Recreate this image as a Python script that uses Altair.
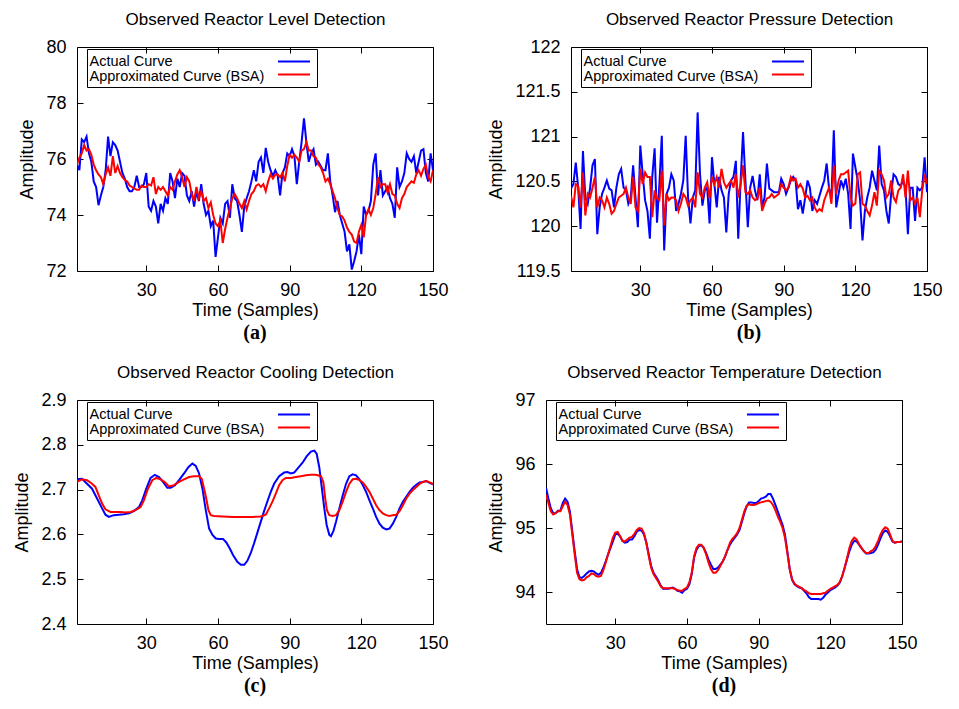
import altair as alt
import pandas as pd

FONT = "Liberation Sans"
SERIF = "Liberation Serif"
SERIES = ["Actual Curve", "Approximated Curve (BSA)"]
COLORS = ["#0000ff", "#ff0000"]
X_TICKS = [30, 60, 90, 120, 150]
SAMPLES = list(range(1, 151))
W, H = 356, 224
TICK = 6

# ---------- (a) Reactor Level ----------
a_actual = [
    75.8, 75.6, 76.7, 76.6, 76.8, 76.2, 75.9, 75.2, 75.0, 74.35,
    74.7, 75.0, 75.6, 76.8, 76.1, 76.6, 76.5, 76.3, 75.9, 75.5,
    75.3, 75.0, 74.85, 74.85, 75.0, 75.4, 75.0, 75.0, 75.1, 75.5,
    74.3, 74.15, 74.5, 74.3, 73.7, 74.4, 74.15, 74.6, 74.4, 75.5,
    75.2, 74.6, 75.3, 75.0, 75.5, 75.4, 74.7, 74.5, 74.85, 74.3,
    74.85, 74.5, 75.1, 74.4, 74.0, 74.15, 73.6, 73.8, 72.5, 73.2,
    73.9, 73.7, 74.4, 74.5, 73.9, 75.1, 74.6, 74.5, 74.0, 73.4,
    74.3, 74.6, 74.85, 75.2, 75.6, 75.2, 75.9, 76.05, 75.5, 76.4,
    75.9, 75.6, 75.4, 75.6, 75.4, 74.7, 75.5, 75.7, 76.2, 76.1,
    76.35, 76.1, 75.1, 75.9, 76.6, 77.45, 76.6, 75.9, 76.2, 76.35,
    75.8, 75.9, 75.75, 75.6, 75.6, 76.2, 75.2, 74.7, 74.1, 74.5,
    74.0, 73.7, 73.4, 72.7, 72.95, 72.05, 72.35, 72.7, 73.3, 72.6,
    74.3, 74.0, 74.15, 74.5, 75.8, 76.2, 74.7, 75.6, 74.7, 74.85,
    75.0, 74.6, 74.4, 73.9, 75.7, 75.0, 75.2, 75.5, 76.2, 76.0,
    75.9, 76.1, 75.5, 75.9, 76.3, 76.35, 75.5, 75.2, 76.2, 75.6,
]
a_approx = [
    75.8, 76.05, 76.2, 76.5, 76.3, 76.35, 76.15, 75.8, 75.6, 75.45,
    75.35, 75.1, 75.45, 75.7, 75.4, 76.1, 75.5, 75.75, 75.5, 75.35,
    75.25, 75.2, 75.05, 75.0, 74.95, 74.9, 74.9, 75.05, 75.0, 75.0,
    75.1, 75.05, 75.35, 74.75, 75.0, 74.9, 75.0, 74.85, 74.7, 75.0,
    74.9, 75.2, 75.45, 75.6, 75.35, 75.0, 75.35, 75.2, 74.75, 74.5,
    75.0, 74.6, 74.85, 74.5, 74.6, 74.25, 74.45, 74.0, 73.7, 73.6,
    73.8, 73.0, 73.5, 73.9, 74.25, 74.6, 74.75, 74.6, 74.4, 74.25,
    74.5, 74.2, 74.5, 74.75, 74.85, 75.05, 75.1, 75.0, 75.1, 74.85,
    75.2, 75.45, 75.3, 75.45, 75.45, 75.35, 75.5, 75.2, 75.75, 76.15,
    76.05, 76.15, 76.05, 75.9, 76.3, 76.35, 76.6, 76.3, 76.3, 76.1,
    76.05, 75.8, 75.7, 75.5, 75.2, 75.3, 75.1, 74.85, 74.6, 74.25,
    74.0, 73.95, 73.8, 73.55, 73.4, 73.3, 73.05, 73.0, 73.4, 73.65,
    73.2, 74.0, 74.2, 74.0, 74.25, 74.75, 75.35, 75.0, 75.1, 75.1,
    74.8, 75.1, 74.75, 74.7, 74.4, 74.25, 74.6, 74.75, 75.0, 75.1,
    75.2, 75.15, 75.45, 75.6, 75.4, 75.65, 75.8, 75.35, 75.2, 75.6,
]

# ---------- (b) Reactor Pressure ----------
b_actual = [
    120.42, 120.47, 120.71, 120.43, 119.97, 120.84, 120.32, 120.25, 120.43, 120.68,
    120.75, 119.91, 120.21, 120.36, 120.43, 120.51, 120.42, 120.40, 120.21, 120.43,
    120.58, 120.64, 120.43, 120.40, 120.25, 120.32, 120.68, 120.32, 119.99, 120.90,
    120.58, 120.29, 120.17, 119.86, 120.55, 120.87, 120.04, 120.47, 121.01, 119.73,
    120.36, 120.43, 120.58, 120.51, 120.17, 120.25, 120.36, 120.51, 121.01, 120.32,
    120.03, 120.32, 120.40, 121.27, 120.58, 120.23, 120.40, 120.43, 120.03, 120.77,
    120.47, 120.21, 120.55, 120.40, 120.32, 119.93, 120.36, 120.51, 120.55, 120.73,
    119.86, 120.51, 121.05, 120.51, 119.99, 120.43, 120.56, 120.40, 120.29, 120.58,
    120.21, 120.32, 120.70, 120.42, 120.40, 120.38, 120.38, 120.38, 120.53, 120.47,
    120.36, 120.43, 120.51, 120.55, 120.51, 120.19, 120.29, 120.14, 120.32, 120.51,
    120.43, 120.17, 120.29, 120.25, 120.34, 120.43, 120.51, 120.70, 120.42, 120.32,
    121.07, 120.21, 120.36, 120.51, 120.43, 120.53, 120.36, 119.97, 120.81, 120.66,
    120.51, 120.29, 119.84, 120.17, 120.32, 120.43, 120.62, 120.51, 120.40, 120.90,
    120.47, 120.40, 120.17, 120.03, 120.36, 120.58, 120.55, 120.47, 120.45, 120.51,
    120.43, 119.91, 120.43, 120.43, 120.06, 120.43, 120.40, 120.43, 120.77, 120.38,
]
b_approx = [
    120.34, 120.21, 120.47, 120.45, 120.21, 120.60, 120.12, 120.36, 120.32, 120.43,
    120.55, 120.21, 120.32, 120.29, 120.21, 120.32, 120.25, 120.14, 120.17, 120.25,
    120.32, 120.34, 120.36, 120.43, 120.32, 120.25, 120.55, 120.21, 120.17, 120.64,
    120.47, 120.60, 120.55, 120.55, 120.10, 120.40, 120.31, 120.29, 120.62, 120.01,
    120.36, 120.29, 120.32, 120.32, 120.29, 120.17, 120.25, 120.36, 120.32, 120.23,
    120.29, 120.32, 120.21, 120.60, 120.36, 120.32, 120.43, 120.49, 120.31, 120.55,
    120.47, 120.55, 120.43, 120.64, 120.49, 120.43, 120.47, 120.51, 120.43, 120.58,
    120.32, 120.47, 120.68, 120.38, 120.36, 120.40, 120.32, 120.29, 120.31, 120.43,
    120.17, 120.25, 120.31, 120.32, 120.36, 120.32, 120.34, 120.36, 120.47, 120.43,
    120.40, 120.43, 120.55, 120.51, 120.53, 120.43, 120.47, 120.42, 120.32, 120.34,
    120.29, 120.32, 120.21, 120.16, 120.19, 120.17, 120.29, 120.36, 120.43, 120.25,
    120.68, 120.36, 120.51, 120.58, 120.58, 120.60, 120.62, 120.32, 120.23, 120.25,
    120.58, 120.60, 120.25, 120.23, 120.17, 120.12, 120.23, 120.38, 120.23, 120.62,
    120.58, 120.51, 120.32, 120.36, 120.51, 120.32, 120.27, 120.40, 120.43, 120.58,
    120.32, 120.62, 120.29, 120.32, 120.25, 120.32, 120.10, 120.40, 120.58, 120.47,
]

# ---------- (c) Reactor Cooling ----------
c_actual_t = [
    1, 3.1, 5.2, 7.3, 9.4, 11.5, 12.9, 14.3, 16.4, 18.5,
    20.6, 22.7, 24.8, 26.9, 28.3, 30.0, 31.8, 33.6, 35.3, 37.0,
    38.8, 40.2, 42.0, 43.7, 45.8, 47.6, 49.3, 50.7, 52.1, 53.5,
    54.9, 56.3, 57.7, 59.1, 60.5, 62.1, 63.5, 64.9, 66.3, 68.1,
    69.6, 71.0, 72.3, 73.7, 75.1, 76.5, 77.9, 79.3, 80.7, 82.1,
    83.5, 85.6, 87.7, 89.1, 90.5, 91.9, 93.3, 95.4, 97.1, 98.9,
    100.3, 101.3, 102.4, 103.5, 104.5, 105.5, 106.6, 107.3, 108.3, 109.4,
    110.8, 112.2, 113.6, 115.0, 116.4, 117.8, 119.2, 120.6, 122.0, 123.4,
    124.8, 126.2, 127.6, 129.0, 130.4, 131.8, 133.2, 134.6, 136.0, 137.4,
    138.8, 140.2, 141.6, 143.0, 144.4, 145.8, 147.2, 148.6, 150,
]
c_actual = [
    2.723, 2.724, 2.713, 2.702, 2.680, 2.658, 2.644, 2.639, 2.643, 2.644,
    2.645, 2.647, 2.652, 2.661, 2.676, 2.702, 2.726, 2.733, 2.728, 2.717,
    2.704, 2.704, 2.710, 2.721, 2.736, 2.750, 2.758, 2.753, 2.736, 2.702,
    2.654, 2.613, 2.599, 2.591, 2.590, 2.590, 2.582, 2.569, 2.554, 2.539,
    2.532, 2.532, 2.541, 2.558, 2.580, 2.604, 2.628, 2.652, 2.674, 2.695,
    2.713, 2.730, 2.738, 2.739, 2.736, 2.738, 2.747, 2.760, 2.774, 2.785,
    2.787, 2.780, 2.750, 2.702, 2.658, 2.621, 2.599, 2.596, 2.607, 2.628,
    2.658, 2.687, 2.713, 2.730, 2.734, 2.732, 2.723, 2.710, 2.695, 2.676,
    2.658, 2.639, 2.624, 2.615, 2.611, 2.613, 2.624, 2.639, 2.658, 2.673,
    2.684, 2.695, 2.704, 2.711, 2.716, 2.717, 2.719, 2.715, 2.712,
]
c_approx_t = [
    1.0, 3.1, 5.2, 7.3, 8.7, 10.1, 11.5, 12.9, 15.0, 17.1,
    19.2, 21.3, 23.4, 25.5, 27.6, 29.0, 30.7, 32.5, 34.2, 36.0,
    37.7, 39.5, 41.6, 43.7, 45.8, 47.9, 50.0, 52.1, 53.2, 54.2,
    55.1, 56.0, 57.0, 58.4, 61.9, 66.0, 70.2, 74.4, 77.9, 80.0,
    81.4, 82.8, 84.2, 85.6, 87.0, 88.4, 90.5, 92.6, 94.7, 96.8,
    98.9, 101.0, 103.1, 104.1, 104.9, 105.6, 106.6, 108.0, 109.4, 110.8,
    112.2, 113.6, 115.0, 116.4, 117.8, 119.2, 120.6, 122.0, 123.4, 124.8,
    126.2, 127.6, 129.0, 130.4, 131.8, 133.2, 134.6, 136.0, 137.4, 138.8,
    140.2, 141.6, 143.0, 144.4, 145.8, 147.2, 148.6, 150,
]
c_approx = [
    2.717, 2.723, 2.721, 2.713, 2.706, 2.687, 2.669, 2.656, 2.650, 2.650,
    2.650, 2.649, 2.650, 2.654, 2.661, 2.676, 2.702, 2.721, 2.726, 2.723,
    2.717, 2.707, 2.710, 2.717, 2.723, 2.728, 2.730, 2.730, 2.724, 2.702,
    2.680, 2.654, 2.643, 2.641, 2.640, 2.639, 2.639, 2.639, 2.640, 2.644,
    2.658, 2.673, 2.691, 2.710, 2.721, 2.726, 2.726, 2.728, 2.730, 2.732,
    2.733, 2.733, 2.730, 2.717, 2.680, 2.654, 2.643, 2.641, 2.643, 2.654,
    2.673, 2.695, 2.713, 2.723, 2.724, 2.721, 2.716, 2.706, 2.695, 2.680,
    2.665, 2.654, 2.647, 2.643, 2.641, 2.643, 2.644, 2.652, 2.665, 2.680,
    2.691, 2.699, 2.706, 2.713, 2.717, 2.719, 2.716, 2.713,
]

# ---------- (d) Reactor Temperature ----------
d_actual = [
    95.63, 95.46, 95.31, 95.23, 95.23, 95.27, 95.27, 95.39, 95.46, 95.41,
    95.26, 94.95, 94.64, 94.36, 94.23, 94.22, 94.25, 94.29, 94.32, 94.33,
    94.32, 94.29, 94.27, 94.30, 94.38, 94.48, 94.59, 94.69, 94.79, 94.90,
    94.91, 94.87, 94.80, 94.77, 94.78, 94.82, 94.82, 94.87, 94.94, 94.97,
    94.96, 94.90, 94.77, 94.59, 94.41, 94.30, 94.24, 94.18, 94.10, 94.05,
    94.05, 94.05, 94.06, 94.07, 94.05, 94.02, 94.01, 93.99, 94.03, 94.05,
    94.12, 94.28, 94.54, 94.66, 94.72, 94.73, 94.69, 94.61, 94.51, 94.43,
    94.36, 94.36, 94.38, 94.43, 94.48, 94.56, 94.66, 94.74, 94.80, 94.85,
    94.90, 94.97, 95.10, 95.23, 95.34, 95.40, 95.40, 95.39, 95.39, 95.42,
    95.46, 95.47, 95.49, 95.53, 95.53, 95.46, 95.36, 95.26, 95.15, 95.05,
    94.90, 94.64, 94.36, 94.19, 94.12, 94.09, 94.07, 94.06, 94.02, 93.98,
    93.92, 93.89, 93.89, 93.89, 93.89, 93.88, 93.91, 93.96, 93.99, 94.03,
    94.05, 94.07, 94.10, 94.15, 94.25, 94.38, 94.51, 94.64, 94.74, 94.80,
    94.79, 94.74, 94.69, 94.64, 94.60, 94.60, 94.61, 94.62, 94.66, 94.74,
    94.84, 94.92, 94.96, 94.94, 94.87, 94.79, 94.77, 94.78, 94.78, 94.79,
]
d_approx = [
    95.52, 95.39, 95.26, 95.21, 95.23, 95.26, 95.26, 95.34, 95.41, 95.36,
    95.21, 94.90, 94.59, 94.30, 94.20, 94.18, 94.19, 94.23, 94.25, 94.29,
    94.28, 94.25, 94.24, 94.25, 94.34, 94.46, 94.59, 94.72, 94.85, 94.93,
    94.94, 94.87, 94.80, 94.79, 94.82, 94.85, 94.86, 94.91, 94.97, 95.00,
    94.99, 94.92, 94.77, 94.56, 94.38, 94.28, 94.22, 94.16, 94.09, 94.06,
    94.06, 94.06, 94.06, 94.06, 94.05, 94.03, 94.02, 94.02, 94.05, 94.07,
    94.15, 94.30, 94.56, 94.69, 94.74, 94.74, 94.69, 94.59, 94.46, 94.36,
    94.30, 94.30, 94.34, 94.41, 94.48, 94.56, 94.66, 94.77, 94.83, 94.87,
    94.92, 95.00, 95.13, 95.26, 95.35, 95.37, 95.36, 95.36, 95.37, 95.39,
    95.40, 95.41, 95.42, 95.43, 95.41, 95.36, 95.28, 95.18, 95.10, 95.00,
    94.85, 94.61, 94.36, 94.20, 94.13, 94.10, 94.08, 94.06, 94.03, 94.01,
    93.98, 93.97, 93.97, 93.97, 93.97, 93.97, 93.98, 93.99, 94.02, 94.05,
    94.07, 94.09, 94.11, 94.16, 94.25, 94.38, 94.53, 94.69, 94.80, 94.85,
    94.82, 94.75, 94.69, 94.64, 94.61, 94.61, 94.64, 94.66, 94.72, 94.80,
    94.90, 94.97, 95.01, 94.99, 94.90, 94.80, 94.77, 94.78, 94.78, 94.79,
]


def make_df(t, v, name):
    return pd.DataFrame({"t": t, "v": v, "series": name, "key": name})


def panel(t_act, v_act, t_app, v_app, title, ydom, yticks, caption):
    xscale = alt.Scale(domain=[1, 150], nice=False, zero=False)
    yenc = alt.Y(
        "v:Q",
        scale=alt.Scale(domain=ydom, nice=False, zero=False),
        axis=alt.Axis(values=yticks, format="~g", title="Amplitude",
                      grid=True, gridColor="black", gridOpacity=1, gridWidth=1,
                      gridDash=[TICK, W - 2 * TICK], ticks=False, tickSize=0,
                      domain=False, labelPadding=11, titlePadding=9),
    )
    # framed key: coloured line samples on the right side of the box
    color = alt.Color(
        "series:N",
        scale=alt.Scale(domain=SERIES, range=COLORS),
        legend=alt.Legend(title=None, orient="none", legendX=10, legendY=2,
                          direction="vertical", strokeColor="black",
                          padding=6, symbolType="stroke", symbolSize=1024,
                          symbolStrokeWidth=2, symbolOffset=184, clipHeight=13,
                          labelExpr="''", labelFontSize=1, labelOffset=0,
                          rowPadding=0),
    )
    # key text on the left side of the box (separate scale domain -> separate legend)
    opac = alt.Opacity(
        "key:N",
        scale=alt.Scale(range=[1, 1]),
        legend=alt.Legend(title=None, orient="none", legendX=-2, legendY=8,
                          direction="vertical", padding=0, symbolOpacity=0,
                          symbolSize=0, symbolType="stroke", labelOffset=0,
                          clipHeight=13, labelFont=FONT, labelFontSize=14.5,
                          labelColor="black", labelLimit=400, rowPadding=0),
    )
    l1 = alt.Chart(make_df(t_act, v_act, SERIES[0])).mark_line(strokeWidth=2, clip=True).encode(
        x=alt.X("t:Q", scale=xscale,
                axis=alt.Axis(values=X_TICKS, title="Time (Samples)", grid=True,
                              gridColor="black", gridOpacity=1, gridWidth=1,
                              gridDash=[TICK, H - 2 * TICK], ticks=False, tickSize=0,
                              domain=False, labelFlush=False, labelPadding=10,
                              titlePadding=2)),
        y=yenc,
        color=color,
        opacity=opac,
    )
    l2 = alt.Chart(make_df(t_app, v_app, SERIES[1])).mark_line(strokeWidth=2, clip=True).encode(
        x=alt.X("t:Q", scale=xscale,
                axis=alt.Axis(orient="top", labels=False, ticks=False, tickSize=0,
                              domain=False, grid=False, title=title, titleFontSize=17,
                              titlePadding=19)),
        y=yenc,
        color=color,
        opacity=opac,
    )
    return alt.layer(l1, l2).resolve_axis(x="independent").properties(
        width=W, height=H,
        title=alt.TitleParams(caption, orient="bottom", anchor="middle", frame="group",
                              font=SERIF, fontSize=20, fontWeight="bold", color="black",
                              offset=4),
    )


pa = panel(SAMPLES, a_actual, SAMPLES, a_approx, "Observed Reactor Level Detection",
           [72, 80], [72, 74, 76, 78, 80], "(a)")
pb = panel(SAMPLES, b_actual, SAMPLES, b_approx, "Observed Reactor Pressure Detection",
           [119.5, 122], [119.5, 120, 120.5, 121, 121.5, 122], "(b)")
pc = panel(c_actual_t, c_actual, c_approx_t, c_approx, "Observed Reactor Cooling Detection",
           [2.4, 2.9], [2.4, 2.5, 2.6, 2.7, 2.8, 2.9], "(c)")
pd_ = panel(SAMPLES, d_actual, SAMPLES, d_approx, "Observed Reactor Temperature Detection",
            [93.5, 97], [94, 95, 96, 97], "(d)")


def independent(c):
    return c.resolve_scale(color="independent", opacity="independent").resolve_legend(
        color="independent", opacity="independent")


row1 = independent(alt.hconcat(pa, pb, spacing=38))
row2 = independent(alt.hconcat(pc, pd_, spacing=38))

chart = (
    independent(alt.vconcat(row1, row2, spacing=18))
    .properties(padding={"left": 5, "top": 1, "right": 0, "bottom": 0}, background="white")
    .configure_axis(labelFont=FONT, labelFontSize=18, labelColor="black",
                    titleFont=FONT, titleFontSize=18, titleFontWeight="normal",
                    titleColor="black")
    .configure_view(stroke="black", strokeWidth=1)
)

chart.save("out.html", embed_options={"renderer": "svg", "actions": False})
